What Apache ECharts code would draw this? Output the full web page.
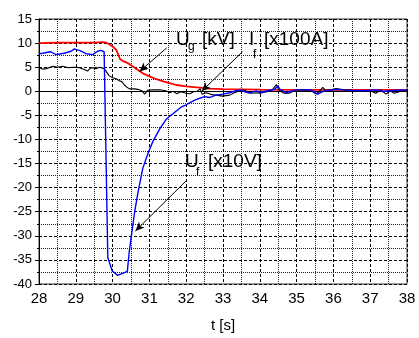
<!DOCTYPE html>
<html>
<head>
<meta charset="utf-8">
<script src="https://cdn.jsdelivr.net/npm/echarts@6/dist/echarts.min.js"></script>
<style>
  html, body { margin: 0; padding: 0; background: #fff; }
  #chart { width: 419px; height: 338px; }
</style>
</head>
<body>
<div id="chart"></div>
<script>
// Ug [kV] - generator voltage
const ugTime = [28.0, 28.5, 29.0, 29.5, 29.75, 29.82, 29.9, 30.0, 30.1, 30.2, 30.3, 30.4, 30.5, 30.6, 30.73, 30.85,
  31.0, 31.19, 31.4, 31.6, 31.73, 32.0, 32.36, 32.63, 33.0, 33.5, 34.0, 35.0, 36.0, 37.0, 38.0]
const ugValues = [10.0, 10.1, 10.1, 10.1, 10.2, 10.1, 9.8, 9.3, 8.6, 6.7, 6.2, 5.9, 5.4, 4.9, 4.2, 3.6,
  3.1, 2.5, 2.0, 1.6, 1.3, 1.0, 0.76, 0.55, 0.45, 0.4, 0.35, 0.3, 0.3, 0.3, 0.3]

// If [x100A] - field current
const ifTime = [28.0, 28.1, 28.2, 28.38, 28.5, 28.64, 28.8, 28.96, 29.1, 29.23, 29.32, 29.41, 29.55, 29.65, 29.77, 29.82,
  29.91, 30.0, 30.1, 30.18, 30.25, 30.32, 30.38, 30.46, 30.6, 30.68, 30.8, 30.87, 30.95, 31.1, 31.28, 31.45,
  31.55, 31.64, 31.75, 31.85, 32.0, 32.1, 32.2, 32.3, 32.38, 32.43, 32.55, 32.7, 32.81, 32.99, 33.18, 33.31,
  33.45, 33.55, 33.76, 33.9, 34.0, 34.2, 34.35, 34.45, 34.52, 34.66, 34.8, 34.98, 35.2, 35.38, 35.53, 35.62,
  35.71, 35.8, 36.07, 36.3, 36.61, 37.0, 37.15, 37.29, 37.43, 37.55, 37.65, 37.88, 38.0]
const ifValues = [4.9, 4.6, 4.7, 5.2, 5.0, 5.2, 4.9, 5.0, 4.9, 4.5, 4.2, 4.9, 4.7, 5.0, 4.7, 5.1,
  3.2, 2.8, 2.6, 2.2, 2.0, 1.3, 0.9, 0.5, 0.5, 0.4, 0.1, -0.6, 0.2, 0.3, 0.3, 0.1,
  -0.3, 0.0, -0.5, -0.1, -0.4, -0.5, -0.1, 0.0, 0.5, -0.6, -0.3, -0.7, -0.8, -1.0, -0.8, -0.3,
  0.1, 0.3, -0.4, -0.3, -0.4, -0.1, 0.4, 1.4, 0.2, -0.4, -0.4, 0.27, 0.3, 0.2, -0.6, 0.0,
  0.8, 0.1, 0.55, 0.3, 0.1, 0.1, -0.4, 0.27, -0.6, 0.1, -0.4, 0.1, 0.1]

// Uf [x10V] - field voltage
const ufTime = [28.0, 28.1, 28.24, 28.32, 28.46, 28.6, 28.69, 28.87, 28.96, 29.03, 29.1, 29.28, 29.46, 29.59, 29.68, 29.77,
  29.82, 29.87, 29.99, 30.14, 30.4, 30.45, 30.51, 30.6, 30.69, 30.82, 30.96, 31.09, 31.28, 31.46, 31.55, 31.68,
  31.86, 32.0, 32.14, 32.31, 32.5, 32.63, 32.81, 33.0, 33.18, 33.31, 33.45, 33.6, 33.72, 33.9, 34.0, 34.2,
  34.4, 34.49, 34.55, 34.71, 34.85, 34.98, 35.2, 35.39, 35.57, 35.75, 35.9, 36.07, 36.25, 36.5, 36.79, 37.0,
  37.25, 37.35, 37.5, 37.75, 38.0]
const ufValues = [7.8, 7.9, 8.1, 8.2, 7.6, 7.8, 7.9, 8.3, 8.8, 8.6, 8.5, 7.8, 7.6, 8.3, 8.5, 8.2,
  8.4, -34.5, -37.3, -38.2, -37.4, -33.5, -30.0, -25.0, -21.0, -16.0, -12.9, -10.5, -7.8, -5.8, -5.2, -4.4,
  -3.3, -2.8, -2.2, -1.6, -1.1, -1.3, -0.8, -0.6, -0.3, 0.0, 0.3, -0.1, -0.4, 0.1, -0.3, 0.1,
  0.4, 1.1, 0.4, -0.3, 0.0, 0.3, 0.3, 0.3, -0.6, 0.1, 0.2, 0.4, 0.3, 0.2, 0.1, 0.2,
  0.3, -0.1, 0.1, 0.2, 0.3]

const xTicks = { min: 28, max: 38, step: 1 }
const yTicks = { min: -40, max: 15, step: 5 }

// annotation arrows, [from, to] in data units
const arrows = [
  [[31.47, 9.0], [30.73, 4.1]],
  [[33.53, 8.2], [32.42, 0.0]],
  [[32.01, -18.5], [30.62, -29.0]],
]

const FONT = "'Liberation Sans', Arial, sans-serif"

const zip = (xs, ys) => xs.map((x, i) => [x, ys[i]])

function txt(text, x, y, size) {
  return {
    type: 'text',
    x: x,
    y: y,
    silent: true,
    style: { text: text, fill: '#000', fontSize: size, fontFamily: FONT, verticalAlign: 'middle' },
  }
}

const axisCommon = {
  type: 'value',
  axisLine: { show: true, lineStyle: { color: '#000', width: 1 } },
  axisTick: { show: true, inside: false, length: 4, lineStyle: { color: '#000' } },
  minorTick: { show: true, splitNumber: 2, length: 2, lineStyle: { color: '#000' } },
  splitLine: { show: true, lineStyle: { color: '#000', type: [3, 2], width: 1 } },
  minorSplitLine: { show: true, lineStyle: { color: '#222', type: [1, 1], width: 1 } },
}

const chart = echarts.init(document.getElementById('chart'))

chart.setOption({
  animation: false,
  backgroundColor: '#fff',
  textStyle: { fontFamily: FONT },
  grid: {
    left: 39, right: 12, top: 19, bottom: 51,
    show: true, borderColor: '#333', borderWidth: 1, backgroundColor: 'transparent',
  },
  xAxis: {
    ...axisCommon,
    min: xTicks.min,
    max: xTicks.max,
    interval: xTicks.step,
    name: 't [s]',
    nameLocation: 'middle',
    nameGap: 34,
    nameTextStyle: { color: '#000', fontSize: 15, fontFamily: FONT },
    axisLabel: { color: '#000', fontSize: 15, margin: 7, fontFamily: FONT },
  },
  yAxis: {
    ...axisCommon,
    min: yTicks.min,
    max: yTicks.max,
    interval: yTicks.step,
    axisLabel: { color: '#000', fontSize: 13, margin: 7, fontFamily: FONT },
  },
  series: [
    {
      name: 'Ug',
      type: 'line',
      data: zip(ugTime, ugValues),
      showSymbol: false,
      symbol: 'none',
      lineStyle: { color: '#ff0000', width: 1.8 },
      z: 3,
      markLine: {
        silent: true,
        symbol: ['none', 'arrow'],
        symbolSize: [6, 9],
        label: { show: false },
        lineStyle: { color: '#000', type: 'solid', width: 1 },
        data: arrows.map(a => [{ coord: a[0] }, { coord: a[1] }]),
      },
    },
    {
      name: 'If',
      type: 'line',
      data: zip(ifTime, ifValues),
      showSymbol: false,
      symbol: 'none',
      lineStyle: { color: '#000', width: 1.1 },
      z: 4,
    },
    {
      name: 'Uf',
      type: 'line',
      data: zip(ufTime, ufValues),
      showSymbol: false,
      symbol: 'none',
      lineStyle: { color: '#0000ff', width: 1.4 },
      z: 5,
    },
  ],
  graphic: [
    txt('U', 176, 39.5, 19),
    txt('g', 188, 46.5, 12),
    txt('[kV]', 202, 39.5, 19),
    txt('I', 249, 39.5, 19),
    txt('f', 253, 55, 12),
    txt('[x100A]', 264, 39.5, 19),
    txt('U', 185, 161.7, 19),
    txt('f', 196, 173, 12),
    txt('[x10V]', 208, 161.7, 19),
  ],
})
</script>
</body>
</html>
